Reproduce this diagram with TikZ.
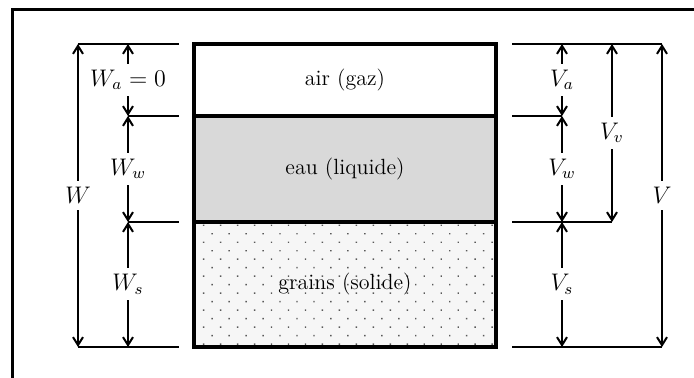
\documentclass[tikz,border=0pt]{standalone}
\usepackage{tikz}
\usetikzlibrary{arrows.meta, positioning, patterns.meta}

\tikzset{
  phase/.style={draw, line width=2pt, minimum width=151pt, inner sep=0pt, outer sep=0pt,
                font=\fontsize{11}{13}\selectfont},
  extline/.style={line width=1pt},
  dimarrow/.style={line width=1pt, {Straight Barb[length=4pt,width=5pt]}-{Straight Barb[length=4pt,width=5pt]}},
  dimlabel/.style={fill=white, inner sep=3pt, font=\fontsize{11.5}{13}\selectfont},
}

\begin{document}
\begin{tikzpicture}[x=0.5pt, y=-0.5pt]
    \useasboundingbox (0,0) rectangle (694,378);
    % frame
    \draw[line width=1.5pt] (12,378) |- (694,10);

    % the three phases
    \node[phase, minimum height=36pt, anchor=north] (air) at (345,44) {air (gaz)};
    \node[phase, fill=gray!30, minimum height=53pt, below=0pt of air] (eau) {eau (liquide)};
    \node[phase, minimum height=62.5pt, below=0pt of eau, preaction={fill=gray!7},
          pattern={Dots[distance=6pt, radius=0.5pt, angle=45]}, pattern color=gray!70!black] (grains) {grains (solide)};

    % ends of the dimension arrows
    \coordinate (W0) at (78,44);
    \coordinate (W3) at (78,347);
    \coordinate (Wa0) at (128,44);
    \coordinate (Wa1) at (128,116);
    \coordinate (Wa2) at (128,222);
    \coordinate (Wa3) at (128,347);
    \coordinate (Va0) at (562,44);
    \coordinate (Va1) at (562,116);
    \coordinate (Va2) at (562,222);
    \coordinate (Va3) at (562,347);
    \coordinate (Vv0) at (612,44);
    \coordinate (Vv2) at (612,222);
    \coordinate (V0) at (662,44);
    \coordinate (V3) at (662,347);

    % extension lines
    \draw[extline] (W0) -- (179,44);
    \draw[extline] (Wa1) -- (179,116);
    \draw[extline] (Wa2) -- (179,222);
    \draw[extline] (W3) -- (179,347);
    \draw[extline] (512,44) -- (V0);
    \draw[extline] (512,116) -- (Va1);
    \draw[extline] (512,222) -- (Vv2);
    \draw[extline] (512,347) -- (V3);

    % weights
    \draw[dimarrow] (W0) -- node[dimlabel] (lW) {$W$} (W3);
    \draw[dimarrow] (Wa0) -- node[dimlabel] (lWa) {$W_a = 0$} (Wa1);
    \draw[dimarrow] (Wa1) -- node[dimlabel] (lWw) {$W_w$} (Wa2);
    \draw[dimarrow] (Wa2) -- node[dimlabel] (lWs) {$W_s$} (Wa3);

    % volumes
    \draw[dimarrow] (Va0) -- node[dimlabel] (lVa) {$V_a$} (Va1);
    \draw[dimarrow] (Va1) -- node[dimlabel] (lVw) {$V_w$} (Va2);
    \draw[dimarrow] (Va2) -- node[dimlabel] (lVs) {$V_s$} (Va3);
    \draw[dimarrow] (Vv0) -- node[dimlabel] (lVv) {$V_v$} (Vv2);
    \draw[dimarrow] (V0) -- node[dimlabel] (lV) {$V$} (V3);
\end{tikzpicture}
\end{document}
